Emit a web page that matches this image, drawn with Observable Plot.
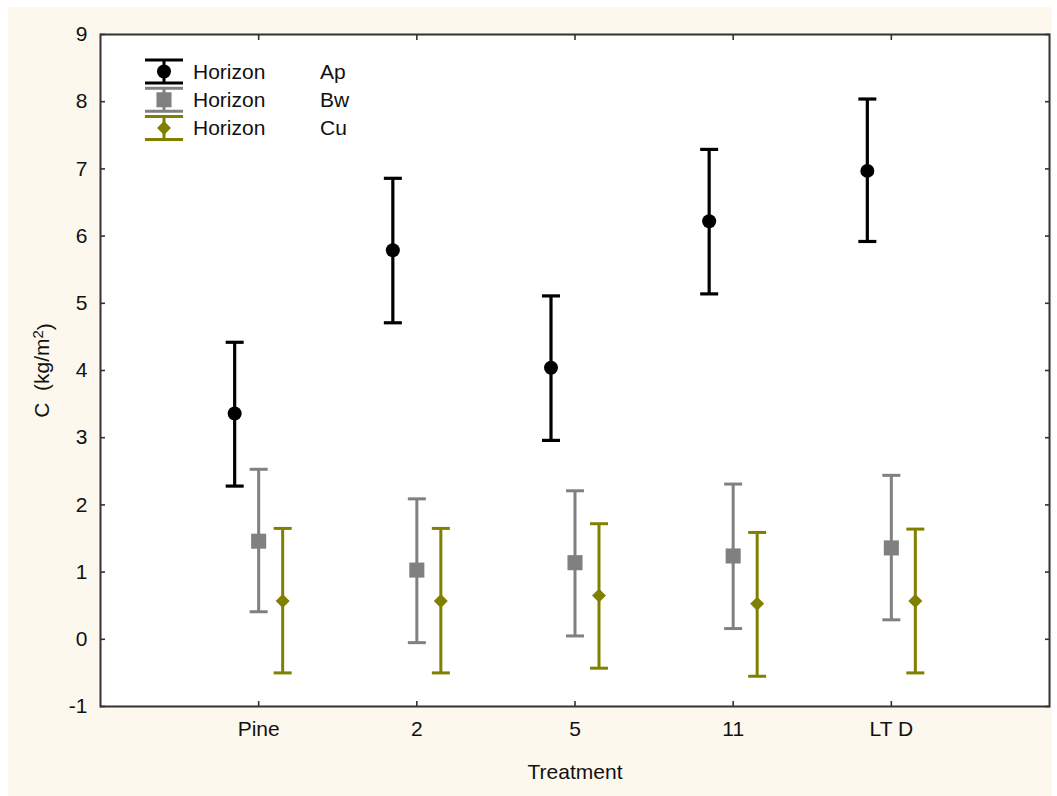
<!DOCTYPE html>
<html><head><meta charset="utf-8">
<script src="https://cdn.jsdelivr.net/npm/d3@7"></script>
<script src="https://cdn.jsdelivr.net/npm/@observablehq/plot@0.6"></script>
<style>
body{margin:0;background:#fff;}
#panel{position:absolute;left:8px;top:7px;width:1044px;height:789px;background:#fdf8ee;}
#panel svg{position:absolute;left:0;top:0;}
</style></head><body><div id="panel"></div>
<script>
const treatments = ["Pine", "2", "5", "11", "LT D"];
const horizons = ["Ap", "Bw", "Cu"];
const apMean = [3.36, 5.79, 4.04, 6.22, 6.97];
const apLow  = [2.28, 4.71, 2.96, 5.14, 5.92];
const apHigh = [4.42, 6.86, 5.11, 7.29, 8.04];
const bwMean = [1.46, 1.03, 1.14, 1.24, 1.36];
const bwLow  = [0.41, -0.05, 0.05, 0.16, 0.29];
const bwHigh = [2.53, 2.09, 2.21, 2.31, 2.44];
const cuMean = [0.57, 0.57, 0.65, 0.53, 0.57];
const cuLow  = [-0.50, -0.50, -0.43, -0.55, -0.50];
const cuHigh = [1.65, 1.65, 1.72, 1.59, 1.64];
const yTicks = [-1, 0, 1, 2, 3, 4, 5, 6, 7, 8, 9];
const yLabel = "C  (kg/m²)";

const series = {
  Ap: {mean: apMean, lo: apLow, hi: apHigh},
  Bw: {mean: bwMean, lo: bwLow, hi: bwHigh},
  Cu: {mean: cuMean, lo: cuLow, hi: cuHigh}
};
const colors = {Ap: "#000000", Bw: "#808080", Cu: "#808000"};
const offsets = {Ap: -24, Bw: 0, Cu: 24};
const symbols = {Ap: "circle", Bw: "square", Cu: "diamond2"};
const d3symbols = {Ap: d3.symbolCircle, Bw: d3.symbolSquare, Cu: d3.symbolDiamond2};
const radii = {Ap: 7, Bw: 8.5, Cu: 6.3};
const capSymbol = {draw(context, size) { const r = Math.sqrt(size / Math.PI); context.moveTo(-r, 0); context.lineTo(r, 0); }};

const rows = [];
horizons.forEach(h => treatments.forEach((t, i) => rows.push({
  horizon: h, treatment: t, pos: i + 1,
  mean: series[h].mean[i], lo: series[h].lo[i], hi: series[h].hi[i]
})));

const ink = "#333";
const marks = [Plot.frame({fill: "white", stroke: null})];
for (const h of horizons) {
  const data = rows.filter(d => d.horizon === h);
  const sw = h === "Ap" ? 3.2 : 3;
  marks.push(Plot.ruleX(data, {x: "pos", y1: "lo", y2: "hi", stroke: colors[h], strokeWidth: sw, dx: offsets[h]}));
  marks.push(Plot.dot(data, {x: "pos", y: "lo", symbol: capSymbol, r: 9, stroke: colors[h], fill: "none", strokeWidth: sw, dx: offsets[h]}));
  marks.push(Plot.dot(data, {x: "pos", y: "hi", symbol: capSymbol, r: 9, stroke: colors[h], fill: "none", strokeWidth: sw, dx: offsets[h]}));
  marks.push(Plot.dot(data, {x: "pos", y: "mean", symbol: symbols[h], r: radii[h], fill: colors[h], stroke: "none", dx: offsets[h]}));
}
marks.push(
  Plot.axisY({anchor: "left", ticks: yTicks, tickSize: 0, tickPadding: 13, tickFormat: d => String(d),
    label: yLabel, labelAnchor: "center", labelOffset: 66, labelArrow: "none", fill: "#111"}),
  Plot.axisY({anchor: "left", ticks: yTicks, tickSize: -5, fill: "none", label: null, stroke: ink, strokeWidth: 1.6}),
  Plot.axisY({anchor: "right", ticks: yTicks, tickSize: -5, fill: "none", label: null, stroke: ink, strokeWidth: 1.6}),
  Plot.axisX({anchor: "bottom", ticks: [1, 2, 3, 4, 5], tickFormat: i => treatments[i - 1], tickSize: 0, tickPadding: 15,
    label: "Treatment", labelAnchor: "center", labelOffset: 72, labelArrow: "none", fill: "#111"}),
  Plot.axisX({anchor: "bottom", ticks: [1, 2, 3, 4, 5], tickSize: -5, fill: "none", label: null, stroke: ink, strokeWidth: 1.6}),
  Plot.axisX({anchor: "top", ticks: [1, 2, 3, 4, 5], tickSize: -5, fill: "none", label: null, stroke: ink, strokeWidth: 1.6}),
  Plot.frame({stroke: ink, strokeWidth: 2})
);

const chart = Plot.plot({
  width: 1044, height: 789,
  marginLeft: 92, marginRight: 3, marginTop: 27, marginBottom: 90,
  x: {domain: [0, 6]},
  y: {domain: [-1, 9]},
  style: {fontFamily: "'Liberation Sans', Arial, sans-serif", fontSize: "21px", background: "transparent", color: "#111"},
  marks
});
document.getElementById("panel").appendChild(chart);

const svg = d3.select(chart);
// superscript in the y label
svg.selectAll("text").filter(function() { return this.textContent.indexOf("kg/m") >= 0; }).each(function() {
  const t = d3.select(this);
  t.selectAll("*").remove();
  t.text(null);
  t.append("tspan").text("C  (kg/m");
  t.append("tspan").attr("dy", "-0.45em").attr("font-size", "15px").text("2");
  t.append("tspan").attr("dy", "0.45em").text(")");
});

// legend
const lg = svg.append("g").attr("class", "legend").attr("text-anchor", "start");
const legendX = 156, legendTop = 64.5, legendGap = 28.3;
horizons.forEach((h, k) => {
  const cy = legendTop + k * legendGap;
  const g = lg.append("g").attr("transform", `translate(${legendX},${cy})`);
  g.append("path").attr("d", "M-19,-11.5H19M0,-11.5V11.5M-19,11.5H19")
    .attr("stroke", colors[h]).attr("stroke-width", 3).attr("fill", "none");
  g.append("path").attr("d", d3.symbol(d3symbols[h], radii[h] * radii[h] * Math.PI)())
    .attr("fill", colors[h]);
  lg.append("text").attr("x", 185).attr("y", cy).attr("dy", "0.35em").attr("fill", "#111").text("Horizon");
  lg.append("text").attr("x", 312).attr("y", cy).attr("dy", "0.35em").attr("fill", "#111").text(h);
});
</script></body></html>
